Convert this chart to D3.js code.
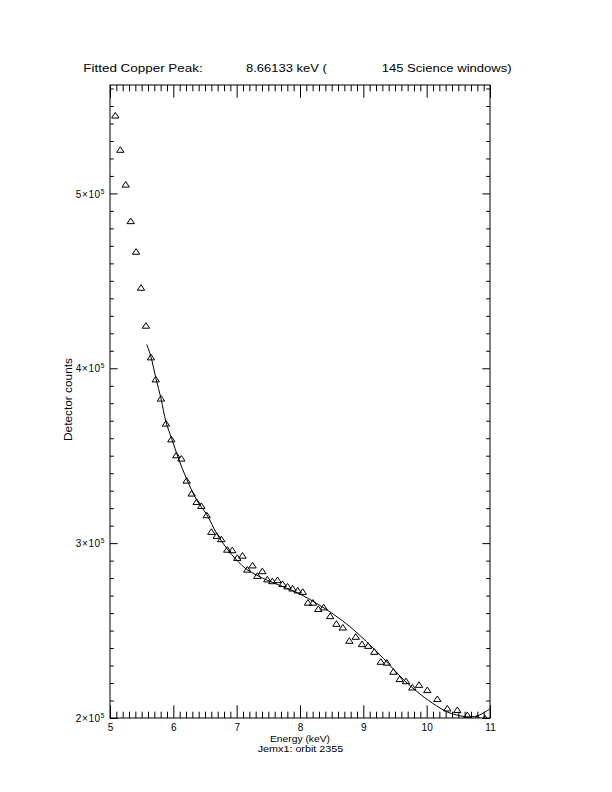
<!DOCTYPE html>
<html>
<head>
<meta charset="utf-8">
<script src="https://cdn.jsdelivr.net/npm/d3@7/dist/d3.min.js"></script>
<style>
  html, body { margin: 0; padding: 0; background: #fff; }
  svg { display: block; }
  text { font-family: "Liberation Sans", "DejaVu Sans", sans-serif; fill: #000; }
</style>
</head>
<body>
<svg id="chart" width="612" height="792"></svg>
<script>
// ---- data ----
const energy = [5.084,5.163,5.248,5.327,5.411,5.489,5.568,5.647,5.722,5.805,5.884,5.968,6.047,6.126,6.211,6.290,6.369,6.442,6.527,6.600,6.685,6.757,6.852,6.931,7.010,7.092,7.168,7.250,7.326,7.405,7.484,7.563,7.645,7.724,7.803,7.882,7.964,8.043,8.126,8.205,8.289,8.374,8.477,8.575,8.676,8.779,8.880,8.979,9.077,9.173,9.276,9.371,9.474,9.574,9.674,9.773,9.879,10.010,10.168,10.326,10.484,10.642,10.803,10.921];
const counts = [544600,525000,505100,484200,466700,446100,424400,406300,393700,382700,368400,359400,350300,348400,335800,328400,323600,321300,316000,306500,304200,302300,296300,296000,291600,292900,284900,287300,281300,284000,279300,278300,278900,276700,275300,274100,273000,272200,266000,266000,262400,263300,258300,253900,251800,244200,246500,242300,241300,237900,232200,231700,226500,222300,221100,217500,219000,216000,210900,205500,204600,201700,200000,199800];
const fitEnergy = [5.580,5.647,5.726,5.805,5.884,5.974,6.078,6.211,6.369,6.527,6.685,6.843,7.000,7.159,7.316,7.421,7.736,8.000,8.264,8.526,8.790,9.053,9.316,9.631,9.895,10.159,10.317,10.475,10.632,10.790,10.948,11.000];
const fitCounts = [413700,406500,394100,382700,369300,359800,348700,336600,324600,316400,305500,297000,290300,285000,281700,279800,275000,270900,265500,259400,252200,243600,234100,222100,213700,206900,203600,201700,200700,201100,204000,205200];
const xTicks = [5,6,7,8,9,10,11];
const xTickLabels = ["5","6","7","8","9","10","11"];
const yTicks = [200000,300000,400000,500000];
const yTickMantissa = ["2","3","4","5"];
const yTickExponent = "5";
const titleParts = ["Fitted Copper Peak:", "8.66133 keV (", "145 Science windows)"];
const xTitle = "Energy (keV)";
const subTitle = "Jemx1: orbit 2355";
const yTitle = "Detector counts";

// ---- layout ----
const L = 110, R = 490, T = 85, B = 718;
const svg = d3.select("#chart");
const x = d3.scaleLinear().domain([5, 11]).range([L, R]);
const y = d3.scaleLinear().domain([200000, 562000]).range([B, T]);

const xMajLen = 12.7, xMinLen = 6.3, yMajLen = 7.6, yMinLen = 3.8;
const xMinor = d3.range(50, 111).map(d => d / 10).filter(d => Math.abs(d - Math.round(d)) > 1e-6);
const yMinor = d3.range(20, 57).map(d => d * 10000).filter(d => d % 100000 !== 0);

function clean(g) { g.select(".domain").remove(); g.selectAll("line").attr("stroke", "#000").attr("stroke-width", 1); }

// bottom axis
svg.append("g").attr("transform", `translate(0,${B})`)
  .call(d3.axisBottom(x).tickValues(xTicks).tickSizeInner(-xMajLen).tickSizeOuter(0).tickPadding(6)
        .tickFormat((d, i) => xTickLabels[i]))
  .call(clean)
  .call(g => g.selectAll("text").attr("font-size", "10px").attr("font-family", "Liberation Sans, sans-serif"));
svg.append("g").attr("transform", `translate(0,${B})`)
  .call(d3.axisBottom(x).tickValues(xMinor).tickSizeInner(-xMinLen).tickSizeOuter(0).tickFormat(""))
  .call(clean);
// top axis
svg.append("g").attr("transform", `translate(0,${T})`)
  .call(d3.axisTop(x).tickValues(xTicks).tickSizeInner(-xMajLen).tickSizeOuter(0).tickFormat(""))
  .call(clean);
svg.append("g").attr("transform", `translate(0,${T})`)
  .call(d3.axisTop(x).tickValues(xMinor).tickSizeInner(-xMinLen).tickSizeOuter(0).tickFormat(""))
  .call(clean);
// left axis
const yl = svg.append("g").attr("transform", `translate(${L},0)`)
  .call(d3.axisLeft(y).tickValues(yTicks).tickSizeInner(-yMajLen).tickSizeOuter(0).tickPadding(5).tickFormat(""))
  .call(clean);
yl.selectAll(".tick text").each(function(d, i) {
  const t = d3.select(this).attr("font-size", "10px").attr("letter-spacing", "0.6px").attr("dy", "0.36em");
  t.append("tspan").text(yTickMantissa[i] + "\u00d710");
  t.append("tspan").attr("font-size", "6.5px").attr("dy", "-0.6em").text(yTickExponent);
});
svg.append("g").attr("transform", `translate(${L},0)`)
  .call(d3.axisLeft(y).tickValues(yMinor).tickSizeInner(-yMinLen).tickSizeOuter(0).tickFormat(""))
  .call(clean);
// right axis
svg.append("g").attr("transform", `translate(${R},0)`)
  .call(d3.axisRight(y).tickValues(yTicks).tickSizeInner(-yMajLen).tickSizeOuter(0).tickFormat(""))
  .call(clean);
svg.append("g").attr("transform", `translate(${R},0)`)
  .call(d3.axisRight(y).tickValues(yMinor).tickSizeInner(-yMinLen).tickSizeOuter(0).tickFormat(""))
  .call(clean);

// frame
svg.append("rect").attr("x", L).attr("y", T).attr("width", R - L).attr("height", B - T)
  .attr("fill", "none").attr("stroke", "#000").attr("stroke-width", 1);

// clip
svg.append("clipPath").attr("id", "plotclip").append("rect")
  .attr("x", L).attr("y", T).attr("width", R - L).attr("height", B - T);

// fitted curve
const line = d3.line().x(d => x(d[0])).y(d => y(d[1])).curve(d3.curveCatmullRom.alpha(0.5));
svg.append("path").datum(fitEnergy.map((e, i) => [e, fitCounts[i]]))
  .attr("clip-path", "url(#plotclip)")
  .attr("d", line).attr("fill", "none").attr("stroke", "#000").attr("stroke-width", 1);

// data triangles
svg.append("g").attr("clip-path", "url(#plotclip)")
  .selectAll("path").data(energy.map((e, i) => [e, counts[i]])).join("path")
  .attr("transform", d => `translate(${x(d[0])},${y(d[1])})`)
  .attr("d", "M0,-3 L3.7,2.6 L-3.7,2.6 Z")
  .attr("fill", "none").attr("stroke", "#000").attr("stroke-width", 1);

// titles
const titlePos = [[83.3, 119.4], [246, 80.7], [381.7, 130]];
titleParts.forEach((s, i) => {
  svg.append("text").attr("x", titlePos[i][0]).attr("y", 72).attr("font-size", "11.5px")
    .attr("textLength", titlePos[i][1]).attr("lengthAdjust", "spacingAndGlyphs").text(s);
});
svg.append("text").attr("x", 270).attr("y", 741.5).attr("font-size", "8.5px")
  .attr("textLength", 60).attr("lengthAdjust", "spacingAndGlyphs").text(xTitle);
svg.append("text").attr("x", 257.7).attr("y", 752).attr("font-size", "8.5px")
  .attr("textLength", 85.6).attr("lengthAdjust", "spacingAndGlyphs").text(subTitle);
svg.append("text").attr("transform", "translate(72,441) rotate(-90)").attr("font-size", "10px")
  .attr("textLength", 83).attr("lengthAdjust", "spacingAndGlyphs").text(yTitle);
</script>
</body>
</html>
